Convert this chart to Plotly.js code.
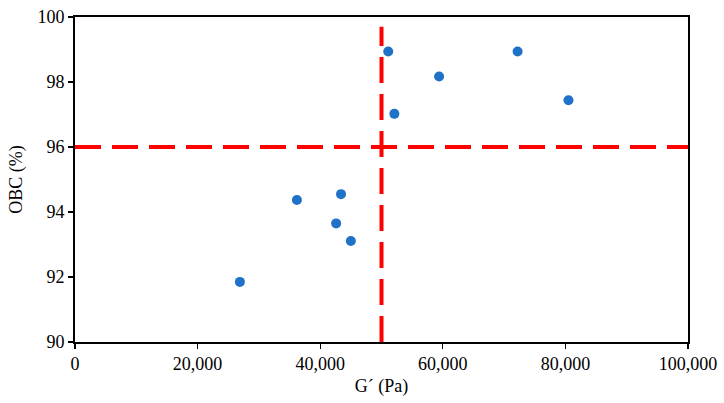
<!DOCTYPE html>
<html><head><meta charset="utf-8">
<script src="https://cdn.plot.ly/plotly-3.0.1.min.js"></script>
<style>html,body{margin:0;padding:0;background:#fff}#c{width:724px;height:403px}</style>
</head><body><div id="c"></div>
<script>
const gPrime = [51100, 52100, 59400, 72200, 80500, 36200, 43400, 42600, 45000, 26900];
const obc    = [98.94, 97.02, 98.17, 98.94, 97.44, 94.37, 94.55, 93.65, 93.11, 91.85];
const gThreshold = 50000;
const obcThreshold = 96;
const xRange = [0, 100000];
const yRange = [90, 100];
const vLineY = [90, 99.7];

const dashStyle = {color: '#ff0000', width: 4, dash: '26px,11px'};
const traces = [
  {x: [xRange[0], xRange[1]], y: [obcThreshold, obcThreshold], mode: 'lines', line: dashStyle, hoverinfo: 'skip'},
  {x: [gThreshold, gThreshold], y: vLineY, mode: 'lines', line: dashStyle, hoverinfo: 'skip'},
  {x: gPrime, y: obc, mode: 'markers', marker: {color: '#1f72c8', size: 10}}
];
const font = {family: 'Liberation Serif, Times New Roman, serif', size: 18, color: '#000'};
const layout = {
  width: 724, height: 403,
  margin: {l: 75, r: 36, t: 17, b: 61},
  showlegend: false,
  paper_bgcolor: '#fff', plot_bgcolor: '#fff',
  font: font,
  xaxis: {
    range: xRange, tickvals: [0, 20000, 40000, 60000, 80000, 100000], tickformat: ',d',
    showgrid: false, zeroline: false, showline: true, linecolor: '#000', linewidth: 1.8, mirror: true,
    ticks: 'outside', ticklen: 5, tickcolor: '#000', tickwidth: 1.2,
    title: {text: 'G´ (Pa)', font: font, standoff: 6}
  },
  yaxis: {
    range: yRange, tickvals: [90, 92, 94, 96, 98, 100],
    showgrid: false, zeroline: false, showline: true, linecolor: '#000', linewidth: 1.8, mirror: true,
    ticks: 'outside', ticklen: 5, tickcolor: '#000', tickwidth: 1.2,
    title: {text: 'OBC (%)', font: font, standoff: 10}
  }
};
Plotly.newPlot('c', traces, layout, {staticPlot: true});
</script></body></html>
